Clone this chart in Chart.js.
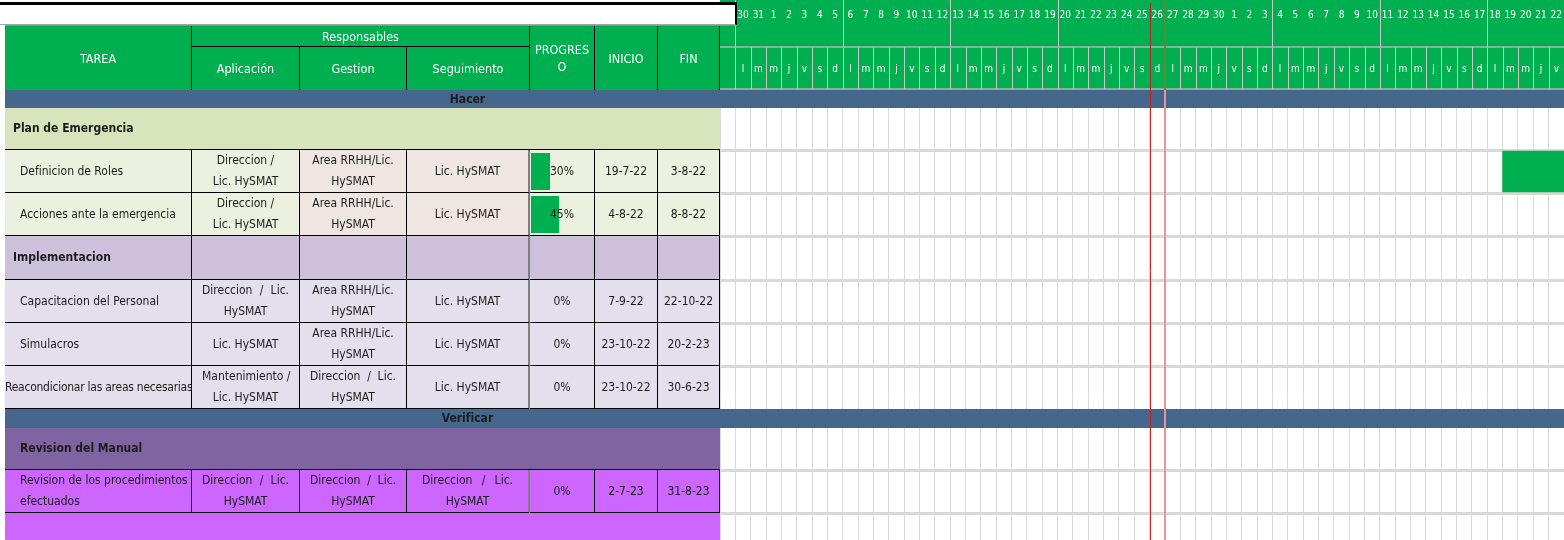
<!DOCTYPE html>
<html lang="es">
<head>
<meta charset="utf-8">
<title>Plan de Emergencia - Gantt</title>
<script src="https://cdn.jsdelivr.net/npm/chart.js@4.4.1/dist/chart.umd.min.js"></script>
<style>
  html, body { margin: 0; padding: 0; background: #fff; }
  #hoja { position: relative; width: 1564px; height: 540px; overflow: hidden;
          font-family: "DejaVu Sans Condensed", "Liberation Sans Narrow", sans-serif; }
  #gantt { position: absolute; left: 0; top: 0; }
  #tabla { position: absolute; left: 0; top: 0; width: 737px; height: 540px; }
  .c { position: absolute; box-sizing: border-box; display: flex; align-items: center;
       justify-content: center; text-align: center; font-size: 12px; line-height: 21px;
       color: #1c1c1c; padding: 0 10px; }
  .c .t { width: 100%; white-space: pre; position: relative; }
  .c.j .t { white-space: normal; text-align: justify; text-align-last: center; }
  .hd { color: #fff; font-size: 12.5px; line-height: 17px; border-right: 1px solid #000; padding: 0 2px; }
  .bb { border-bottom: 1px solid #000; }
  .br { border-right: 1px solid #000; }
  .izq { justify-content: flex-start; text-align: left; padding-left: 15px; }
  .neg { font-weight: bold; }
  .sec { font-weight: bold; padding: 0; }
  .barra { position: absolute; left: 1px; top: 3px; bottom: 2px; background: #00B050; }
  #caja { position: absolute; left: 0; top: 2px; width: 737px; height: 23px; box-sizing: border-box;
          border-top: 3px solid #000; border-right: 2px solid #000; border-bottom: 1px solid #a6a6a6; background: #fff; }
  #rosa { position: absolute; left: 5px; top: 25px; width: 732px; height: 1px; background: #e0609a; }
</style>
</head>
<body>
<div id="hoja">
  <canvas id="gantt" width="1564" height="540"></canvas>
  <div id="tabla">
    <div id="caja"></div>
    <div id="rosa"></div>
  </div>
</div>
<script>
// --- datos ---
const secciones = ['Hacer', 'Verificar'];
const grupos = ['Plan de Emergencia', 'Implementacion', 'Revision del Manual'];
const tareas = [
  'Definicion de Roles',
  'Acciones ante la emergencia',
  'Capacitacion del Personal',
  'Simulacros',
  'Reacondicionar las areas necesarias',
  'Revision de los procedimientos\nefectuados'
];
const aplicacion = ['Direccion /\nLic. HySMAT', 'Direccion /\nLic. HySMAT', 'Direccion / Lic. HySMAT',
  'Lic. HySMAT', 'Mantenimiento /\nLic. HySMAT', 'Direccion / Lic. HySMAT'];
const gestion = ['Area RRHH/Lic.\nHySMAT', 'Area RRHH/Lic.\nHySMAT', 'Area RRHH/Lic.\nHySMAT',
  'Area RRHH/Lic.\nHySMAT', 'Direccion / Lic. HySMAT', 'Direccion / Lic. HySMAT'];
const seguimiento = ['Lic. HySMAT', 'Lic. HySMAT', 'Lic. HySMAT', 'Lic. HySMAT', 'Lic. HySMAT',
  'Direccion / Lic. HySMAT'];
const progreso = [30, 45, 0, 0, 0, 0];
const inicio = ['19-7-22', '4-8-22', '7-9-22', '23-10-22', '23-10-22', '2-7-23'];
const fin = ['3-8-22', '8-8-22', '22-10-22', '20-2-23', '30-6-23', '31-8-23'];

const primerDia = '30-5-22';
const hoy = '26-6-22';
const dias = [30, 31,
  1, 2, 3, 4, 5, 6, 7, 8, 9, 10, 11, 12, 13, 14, 15, 16, 17, 18, 19, 20, 21, 22, 23, 24, 25, 26, 27, 28, 29, 30,
  1, 2, 3, 4, 5, 6, 7, 8, 9, 10, 11, 12, 13, 14, 15, 16, 17, 18, 19, 20, 21, 22];
const semana = [
  'l', 'm', 'm', 'j', 'v', 's', 'd', 'l', 'm', 'm', 'j', 'v', 's', 'd',
  'l', 'm', 'm', 'j', 'v', 's', 'd', 'l', 'm', 'm', 'j', 'v', 's', 'd',
  'l', 'm', 'm', 'j', 'v', 's', 'd', 'l', 'm', 'm', 'j', 'v', 's', 'd',
  'l', 'm', 'm', 'j', 'v', 's', 'd', 'l', 'm', 'm', 'j', 'v'];

// --- disposicion de la hoja ---
const filas = [
  { tipo: 'seccion', texto: secciones[0] },
  { tipo: 'grupo', texto: grupos[0], tema: 'verde' },
  { tipo: 'tarea', i: 0, tema: 'verde' },
  { tipo: 'tarea', i: 1, tema: 'verde' },
  { tipo: 'grupo', texto: grupos[1], tema: 'lila', celdas: true },
  { tipo: 'tarea', i: 2, tema: 'lila' },
  { tipo: 'tarea', i: 3, tema: 'lila' },
  { tipo: 'tarea', i: 4, tema: 'lila' },
  { tipo: 'seccion', texto: secciones[1] },
  { tipo: 'grupo', texto: grupos[2], tema: 'morado', sangria: 15 },
  { tipo: 'tarea', i: 5, tema: 'violeta' },
  { tipo: 'relleno', tema: 'violeta' }
];
const altoFilas = [18, 42, 43, 43, 44, 43, 43, 43, 19, 42, 43, 27];
const cols = [5, 192, 300, 407, 530, 595, 658, 720];
const topeCuerpo = 90;
const verde = '#00B050';
const azul = '#45678C';
const temas = {
  verde: { grupo: '#D8E4BC', tarea: ['#EBF1DE', '#EBF1DE', '#F0E6E1', '#F0E6E1', '#EBF1DE', '#EBF1DE', '#EBF1DE'] },
  lila: { grupo: '#CCC0DA', tarea: Array(7).fill('#E4DFEC') },
  morado: { grupo: '#8064A2' },
  violeta: { tarea: Array(7).fill('#CC66FF'), relleno: '#CC66FF' }
};

const inicioFila = [0];
altoFilas.forEach((h, k) => inicioFila.push(inicioFila[k] + h));
const altoTotal = inicioFila[inicioFila.length - 1];

// --- tabla de la izquierda ---
const tabla = document.getElementById('tabla');
function celda(x0, x1, y, h, fondo, texto, clases) {
  const d = document.createElement('div');
  d.className = 'c ' + (clases || '');
  d.style.left = x0 + 'px';
  d.style.top = y + 'px';
  d.style.width = (x1 - x0) + 'px';
  d.style.height = h + 'px';
  if (fondo) d.style.background = fondo;
  if (texto !== undefined && texto !== null) {
    const t = document.createElement('div');
    t.className = 't';
    t.textContent = texto;
    d.appendChild(t);
  }
  tabla.appendChild(d);
  return d;
}

celda(cols[0], cols[1], 26, 64, verde, 'TAREA', 'hd');
celda(cols[1], cols[4], 26, 21, verde, 'Responsables', 'hd bb');
celda(cols[1], cols[2], 47, 43, verde, 'Aplicación', 'hd');
celda(cols[2], cols[3], 47, 43, verde, 'Gestion', 'hd');
celda(cols[3], cols[4], 47, 43, verde, 'Seguimiento', 'hd');
celda(cols[4], cols[5], 26, 64, verde, 'PROGRES\nO', 'hd');
celda(cols[5], cols[6], 26, 64, verde, 'INICIO', 'hd');
celda(cols[6], cols[7], 26, 64, verde, 'FIN', 'hd');

filas.forEach((f, k) => {
  const y = topeCuerpo + inicioFila[k];
  const h = altoFilas[k];
  const tema = temas[f.tema] || {};
  if (f.tipo === 'seccion') {
    celda(cols[0], cols[7], y, h, azul);
    celda(cols[0], 930, y, h, null, f.texto, 'sec');
  } else if (f.tipo === 'grupo') {
    if (f.celdas) {
      for (let c = 0; c < 7; c++) {
        const el = celda(cols[c], cols[c + 1], y, h, tema.grupo, c === 0 ? f.texto : null,
          c === 0 ? 'izq neg bb br' : 'bb br');
        if (c === 0) el.style.paddingLeft = '8px';
        if (c === 3) el.style.borderRight = '2px solid #7f7f7f';
      }
    } else {
      const el = celda(cols[0], cols[7], y, h, tema.grupo, f.texto, 'izq neg bb');
      el.style.paddingLeft = (f.sangria || 8) + 'px';
    }
  } else if (f.tipo === 'tarea') {
    const i = f.i;
    const textos = [tareas[i], aplicacion[i], gestion[i], seguimiento[i], progreso[i] + '%', inicio[i], fin[i]];
    for (let c = 0; c < 7; c++) {
      const txt = textos[c];
      let cls = 'bb br';
      if (c === 0) cls += ' izq';
      else if (txt.indexOf('\n') < 0) cls += ' j';
      const el = celda(cols[c], cols[c + 1], y, h, tema.tarea[c], txt, cls);
      if (c === 3) { el.style.borderRight = '2px solid #7f7f7f'; el.style.padding = '0 15px'; }
      if (c >= 4) el.style.padding = '0 2px';
      if (c === 0) {
        const t = el.firstChild;
        t.style.width = 'auto';
        if (t.scrollWidth > cols[1] - cols[0] - 16) { el.style.paddingLeft = '0px'; t.style.letterSpacing = '-0.25px'; }
      }
      if (c === 4 && progreso[i] > 0) {
        const b = document.createElement('div');
        b.className = 'barra';
        b.style.width = ((cols[5] - cols[4] - 3) * progreso[i] / 100) + 'px';
        el.insertBefore(b, el.firstChild);
      }
    }
  } else {
    celda(cols[0], cols[7], y, h, tema.relleno);
  }
});

// --- diagrama ---
function numeroDia(s) {
  const [d, m, a] = s.split('-').map(Number);
  const [d0, m0, a0] = primerDia.split('-').map(Number);
  return (Date.UTC(2000 + a, m - 1, d) - Date.UTC(2000 + a0, m0 - 1, d0)) / 86400000;
}
function centroTarea(i) {
  const k = filas.findIndex(f => f.tipo === 'tarea' && f.i === i);
  return inicioFila[k] + altoFilas[k] / 2;
}
const lineasFila = [];
for (let k = 1; k < filas.length; k++) {
  if (filas[k].tipo !== 'seccion' && filas[k - 1].tipo !== 'seccion') lineasFila.push(inicioFila[k]);
}

const fuenteEje = { family: "'DejaVu Sans Condensed', sans-serif", size: 10 };
const sinRelleno = s => { s.paddingLeft = 0; s.paddingRight = 0; s.paddingTop = 0; s.paddingBottom = 0; };

const decoracion = {
  id: 'decoracion',
  beforeDraw(chart) {
    const { ctx, chartArea } = chart;
    const x = chart.scales.x;
    const yMedio = chart.scales.xn.bottom;
    ctx.save();
    ctx.fillStyle = verde;
    ctx.fillRect(chartArea.left, 0, chartArea.right - chartArea.left, chartArea.top);
    ctx.lineWidth = 1;
    ctx.strokeStyle = 'rgba(205,205,205,0.95)';
    for (let i = 0; i <= dias.length; i++) {
      const px = Math.round(x.getPixelForValue(i)) + 0.5;
      const lunes = i < dias.length && semana[i] === 'l';
      ctx.beginPath();
      ctx.moveTo(px, lunes ? 0 : yMedio);
      ctx.lineTo(px, chartArea.top - 1);
      ctx.stroke();
    }
    ctx.strokeStyle = '#b5b5b5';
    ctx.lineWidth = 1.5;
    [yMedio, chartArea.top - 1].forEach(py => {
      ctx.beginPath();
      ctx.moveTo(chartArea.left, py);
      ctx.lineTo(chartArea.right, py);
      ctx.stroke();
    });
    ctx.restore();
  },
  beforeDatasetsDraw(chart) {
    const { ctx, chartArea } = chart;
    const y = chart.scales.y;
    ctx.save();
    ctx.fillStyle = azul;
    filas.forEach((f, k) => {
      if (f.tipo !== 'seccion') return;
      const y0 = y.getPixelForValue(inicioFila[k]);
      const y1 = y.getPixelForValue(inicioFila[k + 1]);
      ctx.fillRect(chartArea.left, y0, chartArea.right - chartArea.left, y1 - y0);
    });
    ctx.restore();
  },
  afterDatasetsDraw(chart) {
    const { ctx, chartArea } = chart;
    const x = chart.scales.x;
    const d = numeroDia(hoy);
    const p0 = Math.round(x.getPixelForValue(d)) + 0.5;
    const p1 = Math.round(x.getPixelForValue(d + 1));
    ctx.save();
    ctx.strokeStyle = '#5f8a3a';
    ctx.lineWidth = 2;
    ctx.beginPath(); ctx.moveTo(p1, 0); ctx.lineTo(p1, chartArea.top); ctx.stroke();
    ctx.strokeStyle = '#e69696';
    ctx.beginPath(); ctx.moveTo(p1, chartArea.top); ctx.lineTo(p1, chartArea.bottom); ctx.stroke();
    ctx.strokeStyle = '#b8262c';
    ctx.lineWidth = 1;
    ctx.beginPath(); ctx.moveTo(p0, 3); ctx.lineTo(p0, chartArea.bottom); ctx.stroke();
    ctx.restore();
  }
};

new Chart(document.getElementById('gantt'), {
  type: 'bar',
  data: {
    datasets: [{
      label: 'Tareas',
      data: tareas.map((t, i) => ({ x: [numeroDia(inicio[i]), numeroDia(fin[i]) + 1], y: centroTarea(i) })),
      backgroundColor: verde,
      borderWidth: 0,
      barThickness: 41
    }]
  },
  options: {
    indexAxis: 'y',
    responsive: false,
    animation: false,
    devicePixelRatio: 1,
    layout: { padding: { left: cols[7], top: 0, right: 0, bottom: 0 } },
    scales: {
      x: {
        type: 'linear', position: 'bottom', min: -1, max: dias.length, offset: false,
        afterBuildTicks: s => {
          const t = [];
          for (let v = -1; v <= dias.length; v++) t.push({ value: v });
          s.ticks = t;
        },
        ticks: { display: false },
        grid: { color: '#D9D9D9', lineWidth: 1, drawTicks: false, offset: false },
        border: { display: false },
        afterFit: s => { s.height = 0; sinRelleno(s); }
      },
      xn: {
        type: 'category', position: 'top', weight: 1, offset: true,
        labels: [''].concat(dias.map(String)),
        ticks: { color: '#fff', font: fuenteEje, padding: 26, autoSkip: false, maxRotation: 0 },
        grid: { display: false, drawTicks: false },
        border: { display: false },
        afterFit: s => { s.height = 47; sinRelleno(s); }
      },
      xw: {
        type: 'category', position: 'top', weight: 0, offset: true,
        labels: [''].concat(semana),
        ticks: { color: '#fff', font: fuenteEje, padding: 15, autoSkip: false, maxRotation: 0 },
        grid: { display: false, drawTicks: false },
        border: { display: false },
        afterFit: s => { s.height = 43; sinRelleno(s); }
      },
      y: {
        type: 'linear', position: 'left', reverse: true, min: 0, max: altoTotal, offset: false,
        afterBuildTicks: s => { s.ticks = lineasFila.map(v => ({ value: v })); },
        ticks: { display: false },
        grid: { color: '#D9D9D9', lineWidth: 3, drawTicks: false, offset: false },
        border: { display: false },
        afterFit: s => { s.width = 0; sinRelleno(s); }
      }
    },
    plugins: {
      legend: { display: false },
      tooltip: { enabled: false }
    }
  },
  plugins: [decoracion]
});
</script>
</body>
</html>
